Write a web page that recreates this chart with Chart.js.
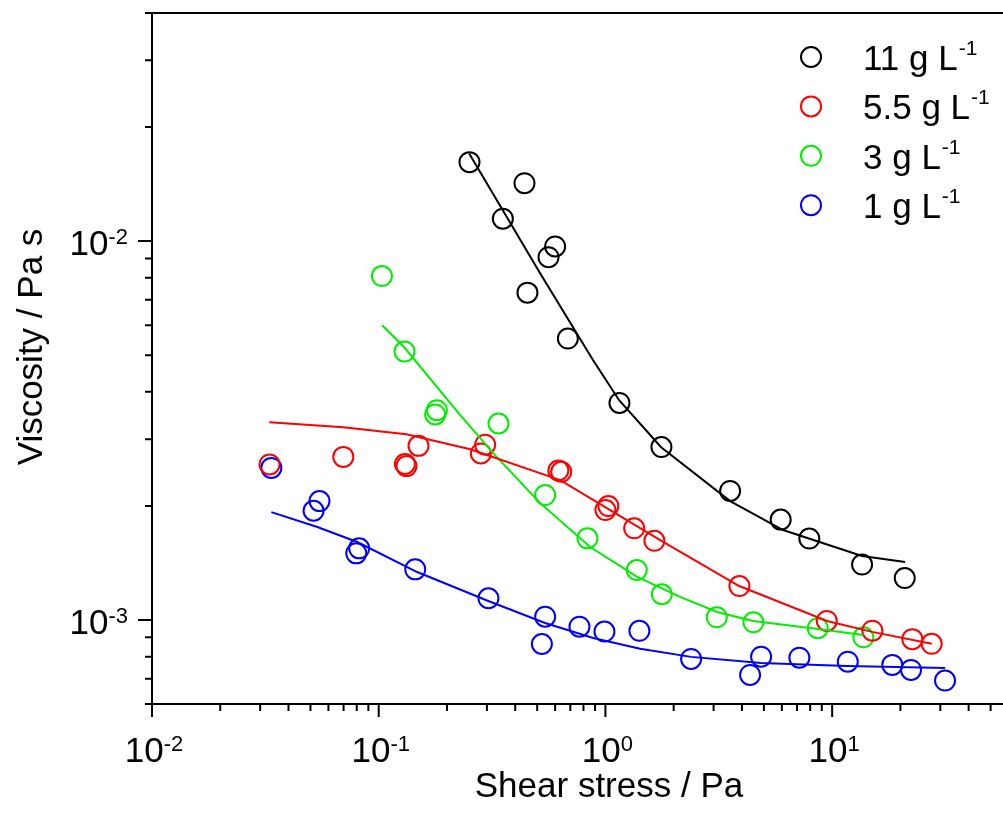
<!DOCTYPE html>
<html>
<head>
<meta charset="utf-8">
<script src="https://cdn.jsdelivr.net/npm/chart.js@4.4.1/dist/chart.umd.min.js"></script>
<style>
  html, body { margin: 0; padding: 0; background: #fff; }
  #wrap { width: 1003px; height: 818px; }
</style>
</head>
<body>
<div id="wrap"><canvas id="myChart" width="1003" height="818"></canvas></div>
<script>
// measured points, shear stress (Pa) vs viscosity (Pa s)
const c11X = [0.2514, 0.3528, 0.4395, 0.4529, 0.561, 0.600, 0.6827, 1.153, 1.766, 3.548, 5.93, 7.93, 13.55, 20.9];
const c11Y = [0.01616, 0.01146, 0.01422, 0.00731, 0.00907, 0.00968, 0.00553, 0.00374, 0.00286, 0.00219, 0.00184, 0.00164, 0.00140, 0.00129];

const c55X = [0.0330, 0.0698, 0.1305, 0.1326, 0.1498, 0.2822, 0.2948, 0.620, 0.638, 1.03, 1.00, 1.339, 1.644, 3.898, 9.47, 15.04, 22.57, 27.49];
const c55Y = [0.002573, 0.002694, 0.00258, 0.002547, 0.002881, 0.002751, 0.002902, 0.00248, 0.00246, 0.001998, 0.00195, 0.001745, 0.001618, 0.001229, 0.000994, 0.000937, 0.00089, 0.000865];

const c3X = [0.1033, 0.130, 0.1805, 0.1774, 0.3375, 0.5421, 0.8329, 1.375, 1.773, 3.099, 4.494, 8.64, 13.73];
const c3Y = [0.008086, 0.00511, 0.003579, 0.003486, 0.0033, 0.002136, 0.001642, 0.001354, 0.001169, 0.001016, 0.000986, 0.000951, 0.0009];

const c1X = [0.0336, 0.0548, 0.0516, 0.082, 0.0796, 0.1449, 0.3048, 0.5421, 0.5243, 0.7682, 0.99, 1.412, 2.387, 4.86, 4.345, 7.168, 11.72, 18.42, 22.28, 31.47];
const c1Y = [0.00252, 0.002059, 0.001942, 0.001545, 0.001499, 0.00136, 0.001141, 0.00102, 0.000864, 0.00096, 0.000932, 0.000936, 0.000789, 0.0008, 0.000716, 0.000795, 0.000776, 0.000761, 0.000738, 0.000692];

// fitted curves
const fit11X = [0.2506, 0.515, 0.8826, 1.149, 1.761, 3.548, 6.075, 13.55, 20.96];
const fit11Y = [0.01703, 0.00822, 0.004847, 0.003802, 0.002858, 0.002059, 0.001727, 0.001475, 0.001422];
const fit55X = [0.0329, 0.0698, 0.1322, 0.2532, 0.6314, 1.049, 1.743, 3.89, 9.5, 15.0, 27.5];
const fit55Y = [0.003327, 0.003227, 0.003093, 0.002823, 0.002339, 0.00195, 0.001625, 0.001229, 0.000994, 0.00093, 0.000865];
const fit3X = [0.1036, 0.1295, 0.2288, 0.3197, 0.515, 0.856, 1.380, 2.135, 3.108, 4.48, 8.66, 13.7];
const fit3Y = [0.005994, 0.005245, 0.003471, 0.002756, 0.002034, 0.001558, 0.001299, 0.00115, 0.00105, 0.000994, 0.000947, 0.000913];
const fit1X = [0.0336, 0.0536, 0.0804, 0.1478, 0.3042, 0.542, 0.8826, 1.422, 2.387, 4.86, 11.63, 31.47];
const fit1Y = [0.001926, 0.001759, 0.001606, 0.001338, 0.001122, 0.000982, 0.000896, 0.000839, 0.000799, 0.00077, 0.000756, 0.000747];

const seriesNames = ['11 g L', '5.5 g L', '3 g L', '1 g L'];
const seriesColors = ['#000000', '#ff0000', '#00ee00', '#0000ff'];

// axes
const xMin = 0.01, xMax = 56.7;
const yMin = 0.0006, yMax = 0.04;
const xMajor = [0.01, 0.1, 1, 10];
const xMajorExp = ['-2', '-1', '0', '1'];
const xMinor = [0.02,0.03,0.04,0.05,0.06,0.07,0.08,0.09, 0.2,0.3,0.4,0.5,0.6,0.7,0.8,0.9, 2,3,4,5,6,7,8,9, 20,30,40,50];
const yMajor = [0.001, 0.01];
const yMajorExp = ['-3', '-2'];
const yMinor = [0.0006,0.0007,0.0008,0.0009, 0.002,0.003,0.004,0.005,0.006,0.007,0.008,0.009, 0.02,0.03,0.04];

const FONT = '"Liberation Sans", Arial, sans-serif';

function pts(xs, ys) { return xs.map((v, i) => ({ x: v, y: ys[i] })); }

const pointSets = [[c11X, c11Y], [c55X, c55Y], [c3X, c3Y], [c1X, c1Y]];
const fitSets = [[fit11X, fit11Y], [fit55X, fit55Y], [fit3X, fit3Y], [fit1X, fit1Y]];

let datasets = [];
fitSets.forEach((s, i) => {
  datasets.push({
    label: seriesNames[i] + ' fit',
    data: pts(s[0], s[1]),
    showLine: true,
    borderColor: seriesColors[i],
    borderWidth: 2,
    pointRadius: 0,
    tension: 0,
    fill: false
  });
});
pointSets.forEach((s, i) => {
  datasets.push({
    label: seriesNames[i],
    data: pts(s[0], s[1]),
    showLine: false,
    borderColor: seriesColors[i],
    backgroundColor: 'rgba(0,0,0,0)',
    borderWidth: 2,
    pointRadius: 10,
    pointStyle: 'circle'
  });
});

function drawPow(ctx, x, yBase, exp, big, small, align) {
  ctx.font = big + 'px ' + FONT;
  const w1 = ctx.measureText('10').width;
  ctx.font = small + 'px ' + FONT;
  const w2 = ctx.measureText(exp).width;
  let x0 = align === 'right' ? x - w1 - w2 : x - (w1 + w2) / 2;
  ctx.textAlign = 'left';
  ctx.textBaseline = 'alphabetic';
  ctx.font = big + 'px ' + FONT;
  ctx.fillText('10', x0, yBase);
  ctx.font = small + 'px ' + FONT;
  ctx.fillText(exp, x0 + w1, yBase - 11);
}

const decor = {
  id: 'decor',
  afterDraw(chart) {
    const ctx = chart.ctx, a = chart.chartArea;
    const xs = chart.scales.x, ys = chart.scales.y;
    ctx.save();
    ctx.strokeStyle = '#000';
    ctx.fillStyle = '#000';
    ctx.lineWidth = 2;
    ctx.lineCap = 'square';
    ctx.beginPath();
    ctx.moveTo(a.left, a.top); ctx.lineTo(a.right + 2, a.top);
    ctx.moveTo(a.left, a.top); ctx.lineTo(a.left, a.bottom);
    ctx.moveTo(a.left, a.bottom); ctx.lineTo(a.right + 2, a.bottom);
    ctx.stroke();

    ctx.lineCap = 'butt';
    ctx.beginPath();
    xMajor.forEach(v => { const p = xs.getPixelForValue(v); ctx.moveTo(p, a.bottom); ctx.lineTo(p, a.bottom + 13); });
    xMinor.forEach(v => { const p = xs.getPixelForValue(v); ctx.moveTo(p, a.bottom); ctx.lineTo(p, a.bottom + 7); });
    yMajor.forEach(v => { const p = ys.getPixelForValue(v); ctx.moveTo(a.left, p); ctx.lineTo(a.left - 14, p); });
    yMinor.forEach(v => { const p = ys.getPixelForValue(v); ctx.moveTo(a.left, p); ctx.lineTo(a.left - 7, p); });
    ctx.stroke();

    // tick labels
    xMajor.forEach((v, i) => drawPow(ctx, xs.getPixelForValue(v) + 2, a.bottom + 58, xMajorExp[i], 35, 22, 'center'));
    yMajor.forEach((v, i) => drawPow(ctx, a.left - 24, ys.getPixelForValue(v) + 14, yMajorExp[i], 35, 22, 'right'));

    // axis titles
    ctx.font = '35px ' + FONT;
    ctx.textAlign = 'center';
    ctx.textBaseline = 'alphabetic';
    ctx.fillText('Shear stress / Pa', 609, 797);
    ctx.save();
    ctx.translate(42, 347);
    ctx.rotate(-Math.PI / 2);
    ctx.fillText('Viscosity / Pa s', 0, 0);
    ctx.restore();

    // legend
    seriesNames.forEach((name, i) => {
      const cy = 57 + i * 49.4;
      ctx.beginPath();
      ctx.strokeStyle = seriesColors[i];
      ctx.lineWidth = 2;
      ctx.arc(811, cy, 10, 0, Math.PI * 2);
      ctx.stroke();
      ctx.fillStyle = '#000';
      ctx.textAlign = 'left';
      ctx.font = '35px ' + FONT;
      ctx.fillText(name, 863, cy + 13);
      const w = ctx.measureText(name).width;
      ctx.font = '21px ' + FONT;
      ctx.fillText('-1', 863 + w + 1, cy - 2);
    });
    ctx.restore();
  }
};

new Chart(document.getElementById('myChart').getContext('2d'), {
  type: 'scatter',
  data: { datasets: datasets },
  options: {
    responsive: false,
    animation: false,
    devicePixelRatio: 1,
    layout: { autoPadding: false, padding: { top: 13, right: 0, left: 0, bottom: 0 } },
    plugins: { legend: { display: false }, tooltip: { enabled: false } },
    scales: {
      x: {
        type: 'logarithmic', min: xMin, max: xMax,
        grid: { display: false }, border: { display: false },
        ticks: { display: false },
        afterFit: s => { s.height = 114; s.paddingLeft = 0; s.paddingRight = 0; }
      },
      y: {
        type: 'logarithmic', min: yMin, max: yMax,
        grid: { display: false }, border: { display: false },
        ticks: { display: false },
        afterFit: s => { s.width = 152; s.paddingTop = 0; s.paddingBottom = 0; }
      }
    }
  },
  plugins: [decor]
});
</script>
</body>
</html>
